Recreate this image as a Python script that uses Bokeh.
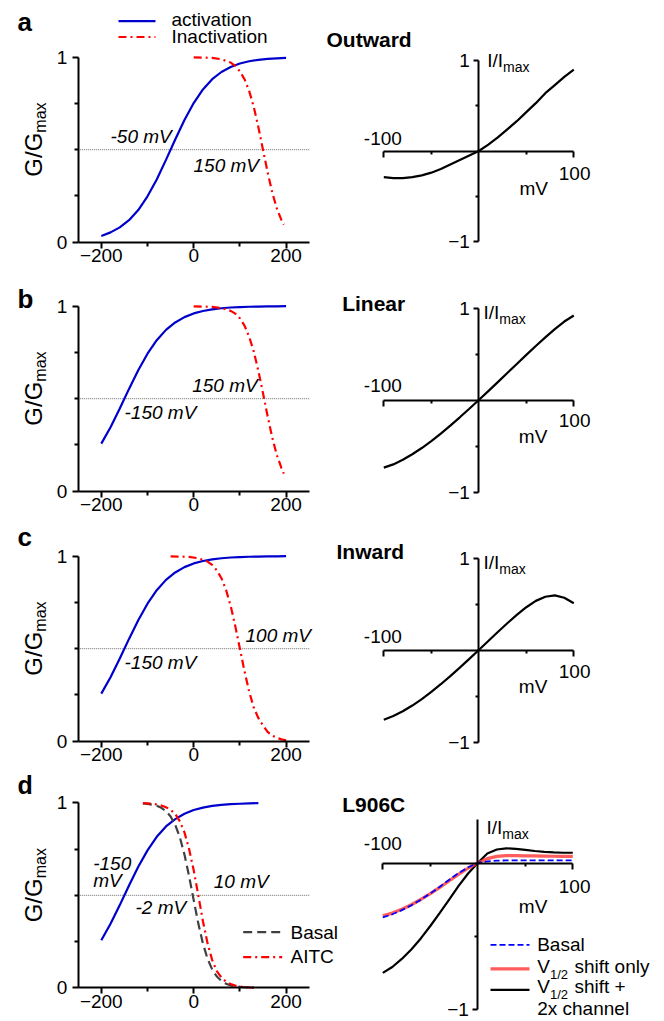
import math
from bokeh.plotting import figure
from bokeh.layouts import column, row
from bokeh.models import Range1d, FixedTicker, Label, Arrow, CustomJSTickFormatter
from bokeh.embed import file_html
from bokeh.resources import INLINE

# ---------------- data ----------------
v_act = [-200, -180, -160, -140, -120, -100, -80, -60, -40, -20, 0,
         20, 40, 60, 80, 100, 120, 140, 160, 180, 200]
act_a = [0.034, 0.053, 0.080, 0.119, 0.174, 0.248, 0.339, 0.445, 0.555, 0.661, 0.752,
         0.826, 0.881, 0.920, 0.947, 0.966, 0.978, 0.986, 0.991, 0.994, 0.996]
act_bc = [0.257, 0.346, 0.447, 0.553, 0.654, 0.743, 0.816, 0.872, 0.912, 0.941, 0.961,
          0.974, 0.983, 0.989, 0.993, 0.995, 0.997, 0.998, 0.999, 0.999, 1.0]

v_inact_ab = [0, 20, 40, 60, 80, 90, 100, 110, 120, 130, 140, 150, 160, 170, 180, 190, 195]
inact_a = [0.999, 0.998, 0.996, 0.989, 0.971, 0.953, 0.924, 0.881, 0.818, 0.731, 0.622,
           0.5, 0.378, 0.269, 0.182, 0.119, 0.095]
inact_b = [0.999, 0.998, 0.996, 0.990, 0.975, 0.960, 0.935, 0.895, 0.835, 0.755, 0.650,
           0.530, 0.405, 0.290, 0.195, 0.125, 0.095]

v_inact_c = [-50, -30, -10, 10, 30, 40, 50, 60, 70, 80, 90, 100, 110, 120, 130, 140,
             150, 160, 170, 180, 190, 200]
inact_c = [0.999, 0.998, 0.996, 0.989, 0.971, 0.953, 0.924, 0.881, 0.818, 0.731, 0.622,
           0.5, 0.378, 0.269, 0.182, 0.125, 0.085, 0.050, 0.030, 0.018, 0.010, 0.005]

v_act_d = [-200, -180, -160, -140, -120, -100, -80, -60, -40, -20, 0,
           20, 40, 60, 80, 100, 120, 140]
act_d = [0.257, 0.346, 0.447, 0.553, 0.654, 0.743, 0.816, 0.872, 0.912, 0.941, 0.961,
         0.974, 0.983, 0.989, 0.993, 0.995, 0.997, 0.998]
v_inact_d = [-110, -100, -90, -80, -70, -60, -50, -40, -30, -20, -10, 0, 10, 20, 30,
             40, 50, 60, 70, 80, 90, 100, 110, 120, 130]
basal_d = [0.997, 0.994, 0.990, 0.984, 0.973, 0.955, 0.926, 0.881, 0.814, 0.720, 0.604,
           0.474, 0.347, 0.239, 0.157, 0.099, 0.061, 0.037, 0.022, 0.013, 0.008, 0.005,
           0.003, 0.002, 0.001]
aitc_d = [0.998, 0.997, 0.995, 0.991, 0.985, 0.976, 0.962, 0.940, 0.900, 0.840, 0.750,
          0.635, 0.500, 0.360, 0.240, 0.150, 0.090, 0.055, 0.033, 0.020, 0.012, 0.007,
          0.004, 0.002, 0.001]

v_iv = [-100, -90, -80, -70, -60, -50, -40, -30, -20, -10, 0,
        10, 20, 30, 40, 50, 60, 70, 80, 90, 100]
iv_outward = [-0.29, -0.30, -0.30, -0.29, -0.27, -0.24, -0.20, -0.15, -0.10, -0.05, 0.0,
              0.07, 0.15, 0.24, 0.33, 0.43, 0.53, 0.64, 0.73, 0.82, 0.90]
iv_linear = [-0.735, -0.700, -0.650, -0.590, -0.522, -0.447, -0.365, -0.278, -0.188, -0.095, 0.0,
             0.097, 0.194, 0.293, 0.392, 0.490, 0.587, 0.681, 0.771, 0.853, 0.919]
iv_inward = [-0.758, -0.718, -0.666, -0.604, -0.534, -0.456, -0.372, -0.284, -0.192, -0.097, 0.0,
             0.098, 0.195, 0.291, 0.382, 0.465, 0.534, 0.579, 0.593, 0.568, 0.508]
iv_basal = [-0.371, -0.350, -0.322, -0.289, -0.251, -0.208, -0.162, -0.114, -0.068, -0.029, 0.0,
            0.011, 0.016, 0.018, 0.018, 0.018, 0.018, 0.018, 0.018, 0.018, 0.018]
iv_shift = [-0.361, -0.342, -0.316, -0.285, -0.249, -0.209, -0.166, -0.121, -0.076, -0.034, 0.0,
            0.030, 0.045, 0.050, 0.050, 0.049, 0.048, 0.047, 0.046, 0.045, 0.045]
iv_shift2x = [-0.750, -0.710, -0.655, -0.590, -0.515, -0.430, -0.340, -0.248, -0.155, -0.070, 0.0,
              0.065, 0.092, 0.100, 0.097, 0.090, 0.082, 0.076, 0.072, 0.070, 0.070]

# axis extents / reference level
G_X_LIM = (-250, 250)
G_Y_LIM = (0, 1)
HALF = 0.5
IV_X_LIM = (-100, 100)

# ---------------- style ----------------
FONT = "Liberation Sans"
BLUE = "#0000cc"
RED = "#ff0000"
GRAY = "#404040"
DASHDOT = "8 4 2 4"


class M:
    """window pixel -> data mapping for one panel (frame == whole canvas)"""
    def __init__(self, X0, xs, sx, y0px, sy):
        self.X0, self.xs, self.sx, self.y0px, self.sy = X0, xs, sx, y0px, sy

    def x(self, px):
        return self.xs + (px - self.X0) / self.sx

    def y(self, py):
        return (self.y0px - py) / self.sy


def txt(p, m, px, py, s, size=19, style="normal", rotated=False):
    # (px, py) is the wanted baseline start in window pixels
    if rotated:
        ax, ay, ang = px - 0.42 * size, py, math.pi / 2
    else:
        ax, ay, ang = px, py - 0.37 * size, 0.0
    p.add_layout(Label(x=m.x(ax), y=m.y(ay), text=s, text_font=FONT,
                       text_font_size=f"{size}px", text_font_style=style,
                       text_align="left", text_baseline="alphabetic",
                       angle=ang, text_color="black"))


def legline(p, m, px0, px1, py, color, width, dash="solid", alpha=1.0):
    p.add_layout(Arrow(end=None, x_start=m.x(px0), y_start=m.y(py),
                       x_end=m.x(px1), y_end=m.y(py), line_color=color,
                       line_width=width, line_dash=dash, line_alpha=alpha))


def style_axis(ax, mo, mi_o, standoff):
    ax.axis_line_width = 2
    ax.axis_line_color = "black"
    ax.major_tick_line_width = 2
    ax.minor_tick_line_width = 2
    ax.major_tick_line_color = "black"
    ax.minor_tick_line_color = "black"
    ax.major_tick_out = mo
    ax.major_tick_in = 0
    ax.minor_tick_out = mi_o
    ax.minor_tick_in = 0
    ax.major_label_text_font = FONT
    ax.major_label_text_font_size = "19px"
    ax.major_label_text_color = "black"
    ax.major_label_standoff = standoff


def make_fig(X0, Y0, W, H, xref, pxref, sx, y0px, sy):
    xs = xref - (pxref - X0) / sx
    xe = xs + W / sx
    ye = (y0px - Y0) / sy
    ys = (y0px - (Y0 + H)) / sy
    p = figure(width=W, height=H, x_range=Range1d(xs, xe), y_range=Range1d(ys, ye),
               title=None, output_backend="svg", toolbar_location=None,
               min_border=0, min_border_left=0, min_border_right=0,
               min_border_top=0, min_border_bottom=0)
    p.outline_line_color = None
    p.grid.visible = False
    p.background_fill_color = "white"
    p.border_fill_color = "white"
    return p, M(X0, xs, sx, y0px, sy)


def left_panel(X0, Y0, W, H, y0px):
    p, m = make_fig(X0, Y0, W, H, G_X_LIM[0], 77.7, 0.462, y0px, 185.0)
    xa, ya = p.xaxis[0], p.yaxis[0]
    xa.fixed_location = G_Y_LIM[0]
    ya.fixed_location = G_X_LIM[0]
    xa.bounds = G_X_LIM
    ya.bounds = G_Y_LIM
    xa.ticker = FixedTicker(ticks=[-200, 0, 200], minor_ticks=[-100, 100])
    ya.ticker = FixedTicker(ticks=[0, 1], minor_ticks=[0.25, 0.5, 0.75])
    style_axis(xa, 6, 4, 1)
    style_axis(ya, 6, 4, 5)
    p.segment(x0=[G_X_LIM[0]], y0=[HALF], x1=[G_X_LIM[1]], y1=[HALF],
              line_color="#888888", line_width=1.2, line_dash="1 1")
    # rotated y-axis label G/Gmax
    center = y0px - 92.5 - 10
    start = center + 37
    txt(p, m, 43, start, "G/G", size=24, rotated=True)
    txt(p, m, 46.7, start - 44, "max", size=16, rotated=True)
    return p, m


def right_panel(X0, Y0, W, H, frame_left, origin, sy, ylim, yticks, yminor):
    p, m = make_fig(X0, Y0, W, H, IV_X_LIM[0], frame_left, 0.95, origin, sy)
    xa, ya = p.xaxis[0], p.yaxis[0]
    xa.fixed_location = 0
    ya.fixed_location = 0
    xa.bounds = IV_X_LIM
    ya.bounds = ylim
    xa.ticker = FixedTicker(ticks=[-100, 100], minor_ticks=[-50, 50])
    xa.formatter = CustomJSTickFormatter(code="return ''")
    ya.ticker = FixedTicker(ticks=yticks, minor_ticks=yminor)
    style_axis(xa, 6, 3, 2)
    style_axis(ya, 5, 3, 4)
    return p, m


# ---------------- row a ----------------
la, lma = left_panel(0, 0, 318, 272, 241.7)
ra, rma = right_panel(318, 0, 346, 272, 383.3, 150.5, 90.3, (-1, 1), [-1, 1], [-0.5, 0.5])

la.line(v_act, act_a, line_color=BLUE, line_width=2.2)
la.line(v_inact_ab, inact_a, line_color=RED, line_width=2.2, line_dash=DASHDOT)
txt(la, lma, 17, 30.7, "a", size=26, style="bold")
legline(la, lma, 118, 155, 20.7, BLUE, 2.2)
txt(la, lma, 171, 26, "activation")
legline(la, lma, 118, 155, 36.5, RED, 2.2, DASHDOT)
txt(la, lma, 171, 43.3, "Inactivation")
txt(la, lma, 110, 143, "-50 mV", style="italic")
txt(la, lma, 193, 171.7, "150 mV", style="italic")

ra.line(v_iv, iv_outward, line_color="black", line_width=2.2)
txt(ra, rma, 326, 46.7, "Outward", size=21, style="bold")
txt(ra, rma, 363.3, 145, "-100")
txt(ra, rma, 558.3, 180, "100")
txt(ra, rma, 519, 195, "mV")
txt(ra, rma, 486.7, 66.7, "I/I")
txt(ra, rma, 502.5, 71.7, "max", size=14)

# ---------------- row b ----------------
lb, lmb = left_panel(0, 272, 318, 250, 490.7)
rb, rmb = right_panel(318, 272, 346, 250, 383.3, 399.5, 92.0, (-1, 1), [-1, 1], [-0.5, 0.5])

lb.line(v_act, act_bc, line_color=BLUE, line_width=2.2)
lb.line(v_inact_ab, inact_b, line_color=RED, line_width=2.2, line_dash=DASHDOT)
txt(lb, lmb, 17, 308.3, "b", size=26, style="bold")
txt(lb, lmb, 191.7, 391.7, "150 mV", style="italic")
txt(lb, lmb, 124, 419.3, "-150 mV", style="italic")

rb.line(v_iv, iv_linear, line_color="black", line_width=2.2)
txt(rb, rmb, 341.7, 310.7, "Linear", size=21, style="bold")
txt(rb, rmb, 363.3, 391.7, "-100")
txt(rb, rmb, 558.3, 426.7, "100")
txt(rb, rmb, 518.3, 442.7, "mV")
txt(rb, rmb, 483, 318.7, "I/I")
txt(rb, rmb, 498.8, 323.7, "max", size=14)

# ---------------- row c ----------------
lc, lmc = left_panel(0, 522, 318, 248, 740.7)
rc, rmc = right_panel(318, 522, 346, 248, 383.3, 649.5, 92.0, (-1, 1), [-1, 1], [-0.5, 0.5])

lc.line(v_act, act_bc, line_color=BLUE, line_width=2.2)
lc.line(v_inact_c, inact_c, line_color=RED, line_width=2.2, line_dash=DASHDOT)
txt(lc, lmc, 17, 546.5, "c", size=26, style="bold")
txt(lc, lmc, 245, 641.7, "100 mV", style="italic")
txt(lc, lmc, 124, 669.3, "-150 mV", style="italic")

rc.line(v_iv, iv_inward, line_color="black", line_width=2.2)
txt(rc, rmc, 336, 559, "Inward", size=21, style="bold")
txt(rc, rmc, 363.3, 643.3, "-100")
txt(rc, rmc, 558.3, 678.3, "100")
txt(rc, rmc, 518.3, 693.3, "mV")
txt(rc, rmc, 483, 568.7, "I/I")
txt(rc, rmc, 498.8, 573.7, "max", size=14)

# ---------------- row d ----------------
ld, lmd = left_panel(0, 770, 340, 251, 987.3)
rd, rmd = right_panel(340, 770, 324, 251, 382.3, 862.5, 146.5, (-1, 0.3), [-1], [-0.5])

ld.line(v_act_d, act_d, line_color=BLUE, line_width=2.2)
ld.line(v_inact_d, basal_d, line_color=GRAY, line_width=2.2, line_dash="9 5")
ld.line(v_inact_d, aitc_d, line_color=RED, line_width=2.2, line_dash=DASHDOT)
txt(ld, lmd, 17, 794, "d", size=25, style="bold")
txt(ld, lmd, 92.7, 870, "-150", style="italic")
txt(ld, lmd, 92.7, 887.3, "mV", style="italic")
txt(ld, lmd, 213.3, 888.3, "10 mV", style="italic")
txt(ld, lmd, 135, 914, "-2 mV", style="italic")
legline(ld, lmd, 242.7, 281.7, 931.7, GRAY, 2.2, "9 5")
txt(ld, lmd, 290, 939, "Basal")
legline(ld, lmd, 242.7, 281.7, 956.7, RED, 2.2, DASHDOT)
txt(ld, lmd, 290, 963.3, "AITC")

rd.line(v_iv, iv_shift2x, line_color="black", line_width=2.2)
rd.line(v_iv, iv_shift, line_color="#ff3333", line_width=3.2, line_alpha=0.8)
rd.line(v_iv, iv_basal, line_color="#0000ff", line_width=1.8, line_dash="6 3")
txt(rd, rmd, 341.7, 811.7, "L906C", size=21, style="bold")
txt(rd, rmd, 363.3, 850, "-100")
txt(rd, rmd, 558.3, 893.3, "100")
txt(rd, rmd, 518.3, 913.3, "mV")
txt(rd, rmd, 486, 834, "I/I")
txt(rd, rmd, 501.8, 839, "max", size=14)
legline(rd, rmd, 490, 529, 944.3, "#0000ff", 1.8, "6 3")
txt(rd, rmd, 536.7, 950.7, "Basal")
legline(rd, rmd, 490, 529, 968.3, "#ff3333", 3.2, alpha=0.8)
txt(rd, rmd, 536.7, 973.3, "V")
txt(rd, rmd, 549.5, 979, "1/2", size=13)
txt(rd, rmd, 574, 973.3, "shift only")
legline(rd, rmd, 490, 529, 989.3, "black", 2.2)
txt(rd, rmd, 536.7, 993.3, "V")
txt(rd, rmd, 549.5, 999, "1/2", size=13)
txt(rd, rmd, 574, 993.3, "shift +")
txt(rd, rmd, 536.7, 1015, "2x channel")

layout = column(row(la, ra), row(lb, rb), row(lc, rc), row(ld, rd))
open("out.html", "w").write(file_html(layout, INLINE))
